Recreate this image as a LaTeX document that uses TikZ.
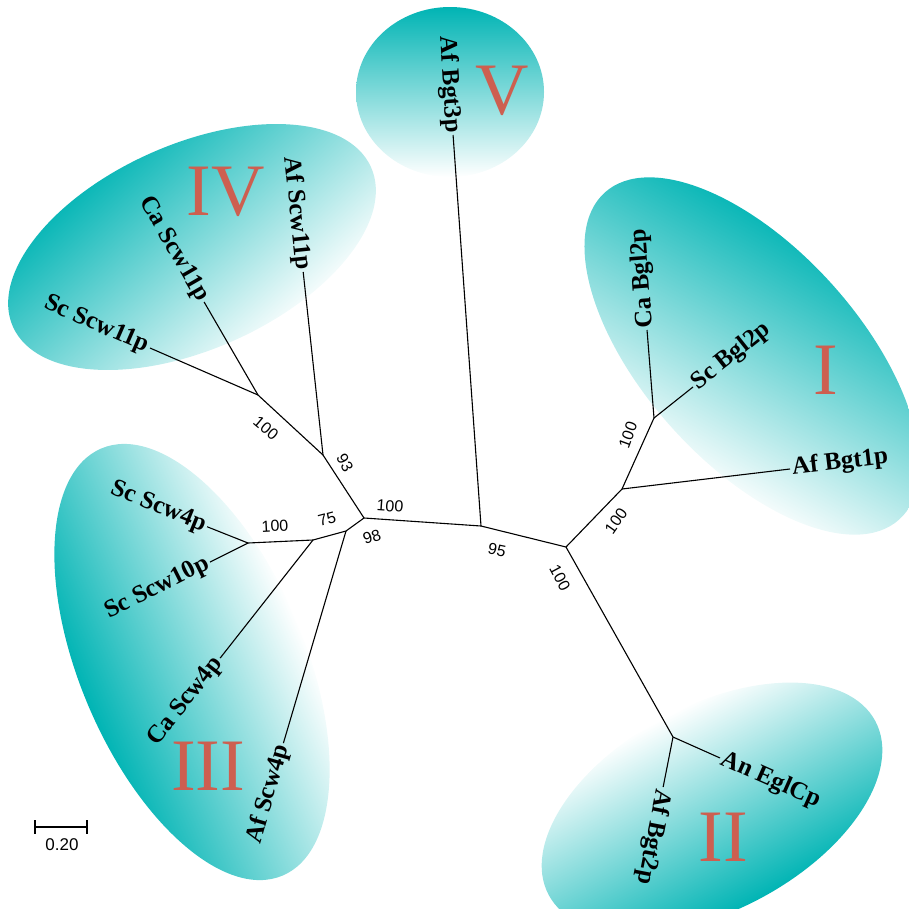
\documentclass[tikz,border=0pt]{standalone}
\usepackage{fontspec}
\setmainfont{Liberation Serif}
\newfontfamily\bootfont{Liberation Sans}
\usetikzlibrary{shapes.geometric}
\definecolor{cladeteal}{RGB}{0,180,180}
\definecolor{cladered}{RGB}{205,95,80}
\tikzset{
  clade/.style={ellipse, inner sep=0pt, outer sep=0pt, top color=cladeteal, middle color=cladeteal!68, bottom color=white},
  leaf/.style={font=\bfseries\fontsize{25}{25}\selectfont, inner sep=2pt},
  boot/.style={font=\bootfont\fontsize{16}{16}\selectfont, inner sep=0pt},
  numeral/.style={text=cladered, font=\fontsize{74}{74}\selectfont, inner sep=0pt},
  branch/.style={line width=1.1pt}
}
\begin{document}
\begin{tikzpicture}[x=1pt, y=-1pt]
  \useasboundingbox (0,0) rectangle (909,908);
  \clip (0,0) rectangle (909,908);
  % Clades
  \begin{scope}[transform canvas={shift={(192,247)}, rotate=24}]
    \node (cladeIV) [clade, minimum width=392pt, minimum height=205pt, shading angle=18] {};
  \end{scope}
  \begin{scope}[transform canvas={shift={(450,92)}}]
    \node (cladeV) [clade, minimum width=188pt, minimum height=170pt] {};
  \end{scope}
  \begin{scope}[transform canvas={shift={(752,356)}, rotate=-48}]
    \node (cladeI) [clade, minimum width=440pt, minimum height=215pt, shading angle=18] {};
  \end{scope}
  \begin{scope}[transform canvas={shift={(192,662)}, rotate=113}]
    \node (cladeIII) [clade, minimum width=464pt, minimum height=225pt] {};
  \end{scope}
  \begin{scope}[transform canvas={shift={(712,808)}, rotate=208}]
    \node (cladeII) [clade, minimum width=370pt, minimum height=205pt] {};
  \end{scope}
  % Inner nodes
  \coordinate (A) at (364,518);
  \coordinate (B) at (481,526);
  \coordinate (C) at (566,547);
  \coordinate (D) at (346,531);
  \coordinate (E) at (313,540);
  \coordinate (F) at (248,543);
  \coordinate (G) at (323,455);
  \coordinate (H) at (258,395);
  \coordinate (J) at (622,489);
  \coordinate (K) at (654,418);
  \coordinate (L) at (673,737);
  % Leaves
  \node (scscw11) [leaf, anchor=east, rotate=-23.5] at (150,348) {Sc Scw11p};
  \node (cascw11) [leaf, anchor=east, rotate=-60] at (204,302) {Ca Scw11p};
  \node (afscw11) [leaf, anchor=east, rotate=-84] at (303,272) {Af Scw11p};
  \node (afbgt3) [leaf, anchor=east, rotate=-86] at (453,135) {Af Bgt3p};
  \node (cabgl2) [leaf, anchor=west, rotate=94.5] at (647,330) {Ca Bgl2p};
  \node (scbgl2) [leaf, anchor=west, rotate=38.5] at (693,387) {Sc Bgl2p};
  \node (afbgt1) [leaf, anchor=west, rotate=6.8] at (790,469) {Af Bgt1p};
  \node (aneglc) [leaf, anchor=west, rotate=-24] at (720,758) {An EglCp};
  \node (afbgt2) [leaf, anchor=west, rotate=-101] at (663,787) {Af Bgt2p};
  \node (scscw4) [leaf, anchor=east, rotate=-22] at (207,527) {Sc Scw4p};
  \node (scscw10) [leaf, anchor=east, rotate=26.6] at (210,562) {Sc Scw10p};
  \node (cascw4) [leaf, anchor=east, rotate=52] at (220,658) {Ca Scw4p};
  \node (afscw4) [leaf, anchor=east, rotate=74] at (283,743) {Af Scw4p};
  % Branches
  \draw[branch] (A) -- (B) -- (C);
  \draw[branch] (A) -- (G) -- (H);
  \draw[branch] (A) -- (D) -- (E) -- (F);
  \draw[branch] (H) -- (scscw11);
  \draw[branch] (H) -- (cascw11);
  \draw[branch] (G) -- (afscw11);
  \draw[branch] (B) -- (afbgt3);
  \draw[branch] (C) -- (J) -- (K);
  \draw[branch] (K) -- (cabgl2);
  \draw[branch] (K) -- (scbgl2);
  \draw[branch] (J) -- (afbgt1);
  \draw[branch] (C) -- (L);
  \draw[branch] (L) -- (aneglc);
  \draw[branch] (L) -- (afbgt2);
  \draw[branch] (F) -- (scscw4);
  \draw[branch] (F) -- (scscw10);
  \draw[branch] (E) -- (cascw4);
  \draw[branch] (D) -- (afscw4);
  % Bootstrap values
  \node (bH) [boot, rotate=-40] at (266,428) {100};
  \node (bG) [boot, rotate=-62] at (345,463) {93};
  \node (bA) [boot, rotate=-4] at (390,506) {100};
  \node (bD) [boot, rotate=18] at (372,537) {98};
  \node (bE) [boot, rotate=15] at (327,519) {75};
  \node (bF) [boot, rotate=3] at (275,526) {100};
  \node (bB) [boot, rotate=-12] at (497,550) {95};
  \node (bC) [boot, rotate=-62] at (560,578) {100};
  \node (bJ) [boot, rotate=55] at (616,521) {100};
  \node (bK) [boot, rotate=70] at (628,435) {100};
  % Clade numerals
  \node (nIV) [numeral] at (226,192) {IV};
  \node (nV) [numeral] at (502,91) {V};
  \node (nI) [numeral] at (826,370) {I};
  \node (nIII) [numeral] at (208,766) {III};
  \node (nII) [numeral] at (723,837) {II};
  % Scale bar
  \coordinate (sbl) at (35,827);
  \coordinate (sbr) at (87,827);
  \draw[line width=1.2pt] (sbl) -- (sbr);
  \draw[line width=1.2pt] ([yshift=7pt]sbl) -- ([yshift=-7pt]sbl);
  \draw[line width=1.2pt] ([yshift=7pt]sbr) -- ([yshift=-7pt]sbr);
  \node (sblabel) [font=\bootfont\fontsize{17}{17}\selectfont, inner sep=0pt] at (62,845) {0.20};
\end{tikzpicture}
\end{document}
